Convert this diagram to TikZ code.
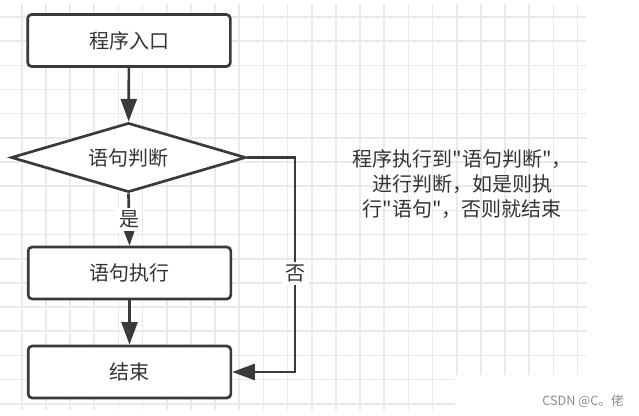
\documentclass[tikz,border=0pt]{standalone}
\usepackage{xcolor}
\usepackage{fontspec}
\usepackage{tikz}
\usetikzlibrary{shapes.geometric, arrows.meta, positioning, calc}
\newfontfamily\cjk{Noto Sans CJK SC}
\definecolor{mydark}{RGB}{58,58,58}
\definecolor{mytext}{RGB}{51,51,51}
\definecolor{mygrid}{RGB}{234,234,234}
\definecolor{mymark}{RGB}{140,140,140}
\tikzset{
  block/.style={rectangle, draw=mydark, fill=white, text=mytext,
    minimum width=152pt, minimum height=39pt,
    font=\cjk\fontsize{15}{18.75}\selectfont, rounded corners=3pt, line width=2pt},
  decision/.style={diamond, draw=mydark, fill=white, text=mytext,
    minimum width=176pt, minimum height=52pt, aspect=3.3, inner sep=0pt,
    font=\cjk\fontsize{15}{18.75}\selectfont, line width=2pt},
  lbl/.style={fill=white, text=mytext, inner sep=2pt,
    font=\cjk\fontsize{15}{18.75}\selectfont},
  note/.style={text=mytext, align=center,
    font=\cjk\fontsize{15}{18.75}\selectfont},
  arrow/.style={-{Triangle[length=17pt, width=12pt]}, line width=2pt, color=mydark},
  gridline/.style={draw=mygrid, line width=1.2pt}
}

\begin{document}
\begin{tikzpicture}[x=0.75pt, y=-0.75pt]
  \useasboundingbox (0,0) rectangle (639,415);
  \fill[white] (0,0) rectangle (639,415);

  % Grid
  \foreach \k in {0,...,23}
    \draw[gridline] ({21.7+24.17*\k},4) -- ({21.7+24.17*\k},410);
  \foreach \k in {0,...,16}
    \draw[gridline] (0,{17+24.17*\k}) -- (587,{17+24.17*\k});
  \fill[white] (455,375) rectangle (639,415);

  % Steps
  \node[block] (entry) at (129,40.5) {程序入口};
  \node[decision] (judge) at (128.5,157.5) {语句判断};
  \node[block] (exec) at (129.5,273) {语句执行};
  \node[block] (finish) at (129.5,372) {结束};
  \coordinate (turn) at (295,157.5);

  % Note
  \node[note] (remark) at (462,184.5) {程序执行到"语句判断"，\\进行判断，如是则执\\行"语句"，否则就结束};
  \node[text=mymark, font=\cjk\fontsize{9.5}{11}\selectfont] (mark) at (583,401) {CSDN @C。佬};

  % Edges
  \draw[arrow] (entry) -- (judge);
  \draw[arrow] (judge.south) -- node[lbl] {是} (exec.north);
  \draw[arrow] (exec) -- (finish);
  \draw[arrow] (judge.east) -- (turn) |- node[lbl, pos=0.27] {否} (finish.east);
\end{tikzpicture}
\end{document}
